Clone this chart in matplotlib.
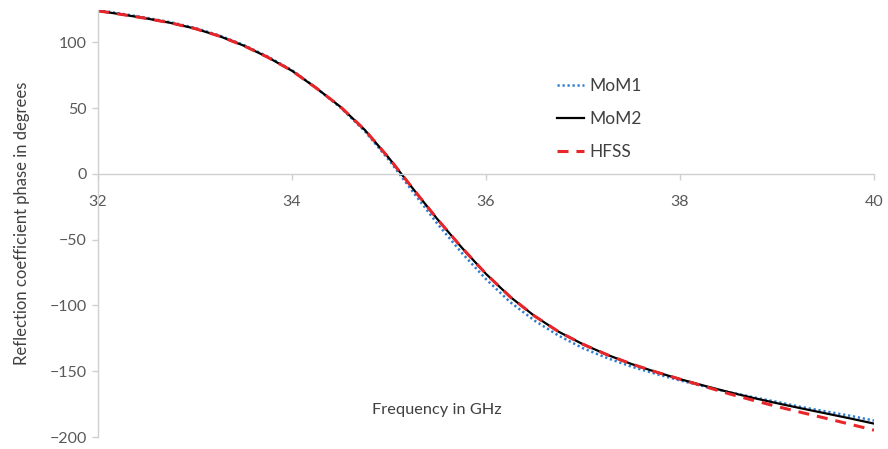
import numpy as np
import matplotlib
matplotlib.use('Agg')
from matplotlib import pyplot as plt

# frequency sweep in GHz
freq = [32.00, 32.25, 32.50, 32.75, 33.00, 33.25, 33.50, 33.75,
        34.00, 34.25, 34.50, 34.75, 35.00, 35.25, 35.50, 35.75,
        36.00, 36.25, 36.50, 36.75, 37.00, 37.25, 37.50, 37.75,
        38.00, 38.25, 38.50, 38.75, 39.00, 39.25, 39.50, 39.75, 40.00]

# reflection phase in degrees
mom1 = [124.5, 121.7, 118.7, 115.3, 111.0, 105.3, 98.1, 89.2,
        78.9, 65.3, 50.5, 32.5, 10.5, -14.0, -38.0, -60.0,
        -80.0, -97.5, -111.5, -123.0, -132.5, -140.0, -146.5, -152.0,
        -157.0, -161.5, -165.8, -169.7, -173.3, -177.2, -180.5, -183.8, -187.5]
mom2 = [124.0, 121.2, 118.2, 114.8, 110.5, 104.8, 97.6, 88.7,
        78.4, 65.3, 51.0, 33.5, 12.0, -11.5, -34.5, -56.0,
        -76.0, -93.5, -108.0, -120.0, -129.5, -137.5, -144.5, -150.5,
        -156.0, -161.0, -165.8, -170.2, -174.3, -178.2, -182.0, -185.8, -189.8]
hfss = [124.0, 121.2, 118.2, 114.8, 110.5, 104.8, 97.6, 88.7,
        78.4, 65.3, 51.0, 33.5, 12.0, -11.5, -34.5, -56.0,
        -76.0, -93.5, -108.0, -120.0, -129.5, -137.5, -144.5, -150.5,
        -156.0, -161.5, -167.0, -172.0, -176.8, -181.3, -185.7, -190.2, -194.8]

xticks = [32, 34, 36, 38, 40]
yticks = [-200, -150, -100, -50, 0, 50, 100]

plt.rcParams['font.family'] = ['Lato', 'DejaVu Sans']
grey = '#595959'
axis_grey = '#d0d0d0'

fig = plt.figure(figsize=(8.88, 4.49), dpi=100)
ax = fig.add_axes([0.1104, 0.0267, 0.8738, 0.9521])

ax.plot(freq, mom1, color='#2e7fd1', lw=1.8, linestyle=(0, (0.9, 1.1)),
        dash_capstyle='butt', label='MoM1')
ax.plot(freq, mom2, color='black', lw=1.6, label='MoM2')
ax.plot(freq, hfss, color='#e8262a', lw=2.2, dashes=(3.6, 2.6), label='HFSS')

ax.set_xlim(32, 40)
ax.set_ylim(-200, 125)
ax.set_xticks(xticks)
ax.set_yticks(yticks)

for side in ['top', 'right']:
    ax.spines[side].set_visible(False)
ax.spines['bottom'].set_position(('data', 0))
ax.spines['bottom'].set_color(axis_grey)
ax.spines['left'].set_color(axis_grey)
ax.spines['bottom'].set_linewidth(1.0)
ax.spines['left'].set_linewidth(1.0)

ax.tick_params(axis='x', direction='out', length=4, width=1, color=axis_grey,
               pad=11, labelsize=11.5, labelcolor=grey)
ax.tick_params(axis='y', direction='out', length=4, width=1, color=axis_grey,
               pad=4, labelsize=11.5, labelcolor=grey)

ax.set_ylabel('Reflection coefficient phase in degrees', fontsize=12,
              color='#404040')
ax.yaxis.set_label_coords(-0.088, 0.5)
ax.set_xlabel('Frequency in GHz', fontsize=11.8, color='#404040')
ax.xaxis.set_label_coords(0.437, 0.063)
ax.xaxis.label.set_va('center')

ax.legend(loc='upper left', bbox_to_anchor=(0.5915, 0.84), frameon=False,
          fontsize=12.5, handlelength=1.56, handletextpad=0.3,
          labelspacing=0.97, borderpad=0, borderaxespad=0,
          labelcolor='#404040')

fig.savefig('out.png', dpi=100)
